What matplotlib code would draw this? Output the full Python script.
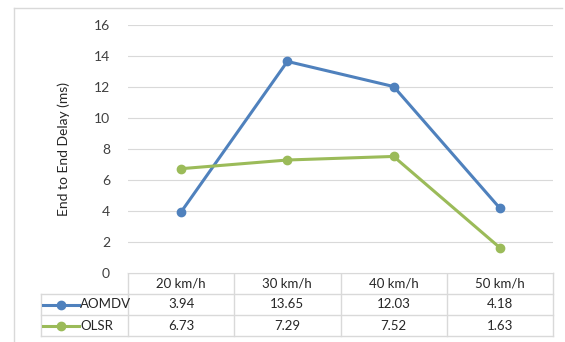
import matplotlib
matplotlib.use("Agg")
import matplotlib.pyplot as plt

plt.rcParams['font.family'] = ['Lato', 'DejaVu Sans']

# data
categories = ["20 km/h", "30 km/h", "40 km/h", "50 km/h"]
aomdv = [3.94, 13.65, 12.03, 4.18]
olsr = [6.73, 7.29, 7.52, 1.63]
series_names = ["AOMDV", "OLSR"]
series_colors = ["#4f81bd", "#9bbb59"]
y_ticks = [0, 2, 4, 6, 8, 10, 12, 14, 16]

W, H = 565, 342
fig = plt.figure(figsize=(W / 100, H / 100), dpi=100)

# pixel helpers
def fx(px):
    return px / W

def fy(py):
    return 1 - py / H

x0, x1 = 128, 553
y_top, y_bot = 25, 273
ax = fig.add_axes([fx(x0), fy(y_bot), fx(x1) - fx(x0), fy(y_top) - fy(y_bot)])
ax.set_xlim(-0.5, len(categories) - 0.5)
ax.set_ylim(0, 16)
ax.set_yticks(y_ticks)
ax.set_xticks([])
ax.grid(axis='y', color='#d9d9d9', linewidth=0.8)
ax.set_axisbelow(True)
for s in ax.spines.values():
    s.set_visible(False)
ax.tick_params(axis='y', length=0, pad=13, labelsize=10, colors='#404040')
ax.set_ylabel("End to End Delay (ms)", fontsize=10, color='#262626', labelpad=17)

xs = range(len(categories))
for vals, c in zip([aomdv, olsr], series_colors):
    ax.plot(xs, vals, color=c, linewidth=2.2, marker='o', markersize=6, clip_on=False)

# overlay axes in pixel coords for the frame and data table
ov = fig.add_axes([0, 0, 1, 1], zorder=-1)
ov.set_xlim(0, W)
ov.set_ylim(H, 0)
ov.axis('off')

lc = '#d9d9d9'
# chart frame
ov.plot([14, 562], [8, 8], color=lc, lw=1)
ov.plot([14, 14], [8, H], color=lc, lw=1)

# table grid
rows_y = [273, 294, 315, 336]
col_w = (x1 - x0) / len(categories)
tbl_left = 41
ov.plot([x0, x1], [rows_y[0]] * 2, color=lc, lw=1)
for yy in rows_y[1:]:
    ov.plot([tbl_left, x1], [yy] * 2, color=lc, lw=1)
ov.plot([x0, x0], [rows_y[0], rows_y[1]], color=lc, lw=1)
ov.plot([tbl_left, tbl_left], [rows_y[1], rows_y[-1]], color=lc, lw=1)
for i in range(len(categories)):
    xx = x0 + col_w * (i + 1)
    ov.plot([xx, xx], [rows_y[0], rows_y[-1]], color=lc, lw=1)
ov.plot([x0, x0], [rows_y[1], rows_y[-1]], color=lc, lw=1)

tc = '#262626'
for i, cat in enumerate(categories):
    cx = x0 + col_w * (i + 0.5)
    ov.text(cx, (rows_y[0] + rows_y[1]) / 2, cat, ha='center', va='center', fontsize=9.5, color=tc)

for r, (name, vals, c) in enumerate(zip(series_names, [aomdv, olsr], series_colors)):
    cy = (rows_y[r + 1] + rows_y[r + 2]) / 2
    ov.plot([43, 79], [cy, cy], color=c, lw=2.2)
    ov.plot([61], [cy], marker='o', color=c, markersize=6)
    ov.text(80, cy, name, ha='left', va='center', fontsize=9.5, color=tc)
    for i, v in enumerate(vals):
        cx = x0 + col_w * (i + 0.5)
        ov.text(cx, cy, f"{v:.2f}", ha='center', va='center', fontsize=9.5, color=tc)

fig.savefig("out.png", dpi=100)
